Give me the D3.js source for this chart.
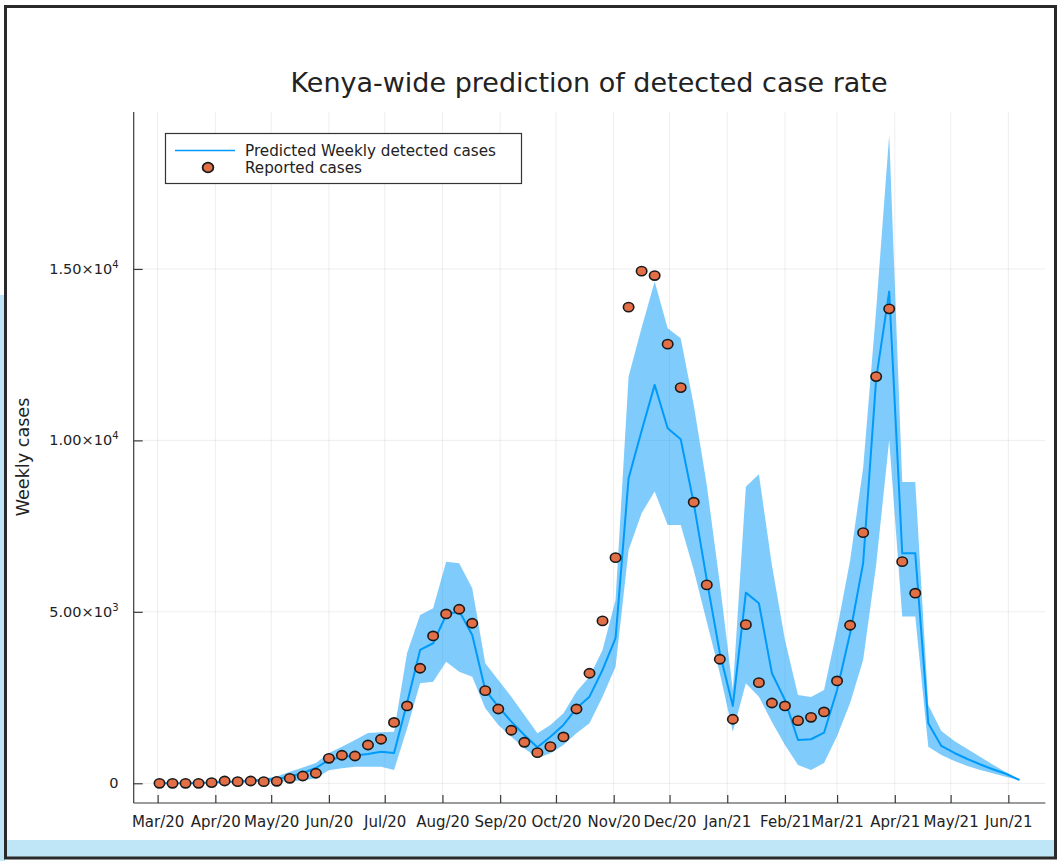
<!DOCTYPE html>
<html>
<head>
<meta charset="utf-8">
<script src="https://cdn.jsdelivr.net/npm/d3@7"></script>
<style>
  html, body { margin: 0; padding: 0; background: #fff; }
  svg { display: block; }
  text { font-family: "DejaVu Sans", sans-serif; }
</style>
</head>
<body>
<svg id="chart" width="1061" height="861"></svg>
<script>
// Weekly series, first week starting 2020-03-02
const weekStart = "2020-03-02";

// Reported weekly cases
const reported = [0, 0, 0, 0, 20, 67, 47, 67, 47, 58,
  146, 213, 292, 729, 817, 796, 1117, 1284, 1774, 2255,
  3355, 4297, 4939, 5076, 4667, 2701, 2167, 1546, 1196, 893,
  1068, 1351, 2167, 3209, 4735, 6581, 13886, 14936, 14807, 12806,
  11540, 8197, 5785, 3617, 1867, 4627, 2935, 2342, 2255, 1826,
  1925, 2080, 2984, 4609, 7310, 11861, 13836, 6464, 5543];

// Model mean of weekly detected cases
const predicted = [0, 0, 0, 10, 20, 40, 50, 70, 100, 125,
  198, 300, 446, 680, 767, 811, 855, 920, 880, 2340,
  3889, 4084, 4910, 5026, 4326, 2722, 2235, 1797, 1409, 1050,
  1360, 1701, 2188, 2526, 3305, 4230, 8897, 10280, 11619, 10356,
  10035, 8168, 5930, 3800, 2255, 5560, 5251, 3209, 2430, 1263,
  1284, 1476, 2722, 4376, 6418, 11800, 14341, 6710, 6710, 1750,
  1088, 884, 709, 548, 403, 271, 96];

// Lower / upper edge of the prediction interval
const predLower = [0, 0, 0, 5, 10, 25, 30, 40, 50, 40,
  60, 80, 150, 380, 440, 484, 484, 484, 388, 1600,
  2917, 2964, 3547, 3256, 3110, 2188, 1701, 1359, 1021, 729,
  875, 1117, 1459, 1750, 2526, 3401, 6806, 7876, 8506, 7535,
  7535, 6222, 4714, 3209, 1505, 2917, 2526, 1788, 1117, 534,
  388, 592, 1380, 2342, 3597, 6370, 10015, 4862, 4862, 1068,
  826, 650, 505, 388, 286, 184, 96];

const predUpper = [0, 0, 0, 15, 30, 55, 70, 100, 140, 200,
  338, 460, 592, 884, 1068, 1263, 1467, 1490, 1505, 3800,
  4910, 5105, 6464, 6418, 5688, 3500, 3013, 2526, 1993, 1459,
  1701, 2042, 2672, 3110, 3889, 5347, 11861, 13283, 14632, 13273,
  12981, 11035, 8700, 5834, 2722, 8650, 9014, 6360, 4181, 2578,
  2517, 2722, 4500, 6500, 9198, 13807, 18912, 8790, 8790, 2285,
  1526, 1234, 1000, 767, 534, 315, 96];

// Axis ticks
const monthTicks = ["2020-03-01", "2020-04-01", "2020-05-01", "2020-06-01",
  "2020-07-01", "2020-08-01", "2020-09-01", "2020-10-01", "2020-11-01",
  "2020-12-01", "2021-01-01", "2021-02-01", "2021-03-01", "2021-04-01",
  "2021-05-01", "2021-06-01"];
const monthLabels = ["Mar/20", "Apr/20", "May/20", "Jun/20", "Jul/20", "Aug/20",
  "Sep/20", "Oct/20", "Nov/20", "Dec/20", "Jan/21", "Feb/21", "Mar/21",
  "Apr/21", "May/21", "Jun/21"];
const yTicks = [0, 5000, 10000, 15000];
const yTickLabels = ["0", "5.00×10^3", "1.00×10^4", "1.50×10^4"];

const lineColor = "#009AFA";
const dotColor = "#E36F47";

const svg = d3.select("#chart");
const parse = d3.utcParse("%Y-%m-%d");
const t0 = parse(weekStart);
const weekDate = i => d3.utcDay.offset(t0, 7 * i);

const predRows = predicted.map((v, i) => ({ date: weekDate(i), v, lo: predLower[i], hi: predUpper[i] }));
const repRows = reported.map((v, i) => ({ date: weekDate(i), v }));

// Plot area
const plotL = 133.7, plotR = 1045.3, plotT = 112, plotB = 803;
const first = predRows[0].date, last = predRows[predRows.length - 1].date;
const pad = (last - first) * 0.03;
const x = d3.scaleUtc()
  .domain([new Date(+first - pad), new Date(+last + pad)])
  .range([plotL, plotR]);
const y = d3.scaleLinear().domain([-575, 19577]).range([plotB, plotT]);

// Outer frame with light-blue strips
svg.append("rect").attr("x", 0).attr("y", 295).attr("width", 5).attr("height", 566).attr("fill", "#bfe6f6");
svg.append("rect").attr("x", 5).attr("y", 840).attr("width", 1052).attr("height", 17).attr("fill", "#bfe6f6");
svg.append("rect").attr("x", 5.5).attr("y", 6.5).attr("width", 1050).attr("height", 851.5)
  .attr("fill", "none").attr("stroke", "#2a2a2a").attr("stroke-width", 3);

// Grid
const grid = svg.append("g").attr("stroke", "#000").attr("stroke-opacity", 0.07).attr("stroke-width", 1);
grid.selectAll("line.v").data(monthTicks).join("line").attr("class", "v")
  .attr("x1", d => x(parse(d))).attr("x2", d => x(parse(d)))
  .attr("y1", plotT).attr("y2", plotB);
grid.selectAll("line.h").data(yTicks).join("line").attr("class", "h")
  .attr("x1", plotL).attr("x2", plotR)
  .attr("y1", d => y(d)).attr("y2", d => y(d));

// Prediction band
svg.append("path").datum(predRows)
  .attr("fill", lineColor).attr("fill-opacity", 0.5)
  .attr("d", d3.area().x(d => x(d.date)).y0(d => y(d.lo)).y1(d => y(d.hi)));

// Prediction mean
svg.append("path").datum(predRows)
  .attr("fill", "none").attr("stroke", lineColor).attr("stroke-width", 2)
  .attr("stroke-linejoin", "round")
  .attr("d", d3.line().x(d => x(d.date)).y(d => y(d.v)));

// Reported points
svg.append("g").selectAll("ellipse").data(repRows).join("ellipse")
  .attr("cx", d => x(d.date)).attr("cy", d => y(d.v))
  .attr("rx", 5.2).attr("ry", 4.6)
  .attr("fill", dotColor).attr("stroke", "#1a1a1a").attr("stroke-width", 1.6);

// Axes
const axisColor = "#3a3a3a";
const xAxis = d3.axisBottom(x)
  .tickValues(monthTicks.map(parse))
  .tickFormat((d, i) => monthLabels[i])
  .tickSize(-8).tickPadding(13);
const gx = svg.append("g").attr("transform", `translate(0,${plotB})`).call(xAxis);
gx.select(".domain").attr("d", `M${plotL},0H${plotR}`).attr("stroke", axisColor).attr("stroke-width", 1.2);
gx.selectAll(".tick line").attr("stroke", axisColor).attr("stroke-width", 1.2);
gx.selectAll(".tick text").attr("font-size", 15).attr("fill", "#222")
  .attr("font-family", "DejaVu Sans");

const yAxis = d3.axisLeft(y).tickValues(yTicks).tickFormat("").tickSize(-9);
const gy = svg.append("g").attr("transform", `translate(${plotL},0)`).call(yAxis);
gy.select(".domain").attr("d", `M0,${plotT}V${plotB}`).attr("stroke", axisColor).attr("stroke-width", 1.2);
gy.selectAll(".tick line").attr("stroke", axisColor).attr("stroke-width", 1.2);

// y tick labels with exponent
const yl = svg.append("g").attr("font-size", 14.5).attr("fill", "#222");
yTicks.forEach((v, i) => {
  const [m, e] = yTickLabels[i].split("^");
  const t = yl.append("text").attr("x", 118.5).attr("y", y(v) + 5).attr("text-anchor", "end");
  t.append("tspan").text(m);
  if (e) t.append("tspan").attr("dy", -6).attr("font-size", 10).text(e);
});

// Axis title
svg.append("text").attr("transform", "translate(28.5,457) rotate(-90)")
  .attr("text-anchor", "middle").attr("font-size", 17.6).attr("fill", "#222")
  .text("Weekly cases");

// Title
svg.append("text").attr("x", 589).attr("y", 92).attr("text-anchor", "middle")
  .attr("font-size", 27).attr("fill", "#222")
  .text("Kenya-wide prediction of detected case rate");

// Legend
const lg = svg.append("g");
lg.append("rect").attr("x", 165.5).attr("y", 133.5).attr("width", 356).attr("height", 50)
  .attr("fill", "#fff").attr("stroke", "#333").attr("stroke-width", 1.2);
lg.append("line").attr("x1", 175).attr("x2", 235).attr("y1", 150.5).attr("y2", 150.5)
  .attr("stroke", lineColor).attr("stroke-width", 1.3);
lg.append("ellipse").attr("cx", 208).attr("cy", 167.5).attr("rx", 5.4).attr("ry", 4.8)
  .attr("fill", dotColor).attr("stroke", "#1a1a1a").attr("stroke-width", 1.8);
lg.append("text").attr("x", 245).attr("y", 155.5).attr("font-size", 15.2).attr("fill", "#222")
  .text("Predicted Weekly detected cases");
lg.append("text").attr("x", 245).attr("y", 173).attr("font-size", 15.2).attr("fill", "#222")
  .text("Reported cases");
</script>
</body>
</html>
